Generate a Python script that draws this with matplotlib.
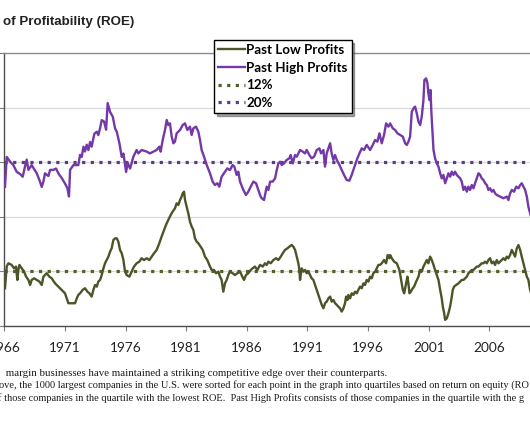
import matplotlib
matplotlib.use("Agg")
import matplotlib.pyplot as plt

# Past High Profits quartile ROE (%)
high_years = [1966.05, 1966.19, 1966.47, 1966.74, 1967.02, 1967.29, 1967.51, 1967.70, 1967.84, 1967.98,
              1968.25, 1968.67, 1968.89, 1969.08, 1969.22, 1969.35, 1969.63, 1969.77, 1970.04, 1970.26,
              1970.45, 1970.73, 1971.00, 1971.20, 1971.33, 1971.42, 1971.69, 1972.10, 1972.24, 1972.38,
              1972.52, 1972.65, 1972.79, 1972.93, 1973.07, 1973.20, 1973.42, 1973.62, 1973.75, 1973.89,
              1974.03, 1974.22, 1974.39, 1974.52, 1974.72, 1974.94, 1975.13, 1975.27, 1975.49, 1975.68,
              1975.82, 1976.04, 1976.17, 1976.37, 1976.64, 1976.91, 1977.05, 1977.32, 1977.74, 1978.01,
              1978.29, 1978.56, 1978.78, 1978.89, 1979.06, 1979.25, 1979.39, 1979.52, 1979.66, 1979.80,
              1979.94, 1980.07, 1980.21, 1980.49, 1980.71, 1980.90, 1981.09, 1981.31, 1981.45, 1981.59,
              1981.81, 1982.00, 1982.14, 1982.27, 1982.47, 1982.69, 1982.96, 1983.18, 1983.37, 1983.57,
              1983.73, 1983.92, 1984.20, 1984.39, 1984.61, 1984.83, 1984.97, 1985.16, 1985.30, 1985.44,
              1985.71, 1985.93, 1986.12, 1986.32, 1986.54, 1986.76, 1986.95, 1987.14, 1987.23, 1987.42,
              1987.64, 1987.78, 1987.92, 1988.13, 1988.33, 1988.47, 1988.60, 1988.74, 1988.88, 1989.07,
              1989.29, 1989.51, 1989.62, 1989.79, 1989.98, 1990.12, 1990.39, 1990.61, 1990.80, 1990.94,
              1991.16, 1991.35, 1991.55, 1991.77, 1991.99, 1992.12, 1992.32, 1992.45, 1992.59, 1992.73,
              1992.87, 1993.00, 1993.14, 1993.28, 1993.42, 1993.64, 1993.83, 1994.02, 1994.24, 1994.46,
              1994.65, 1994.79, 1994.93, 1995.07, 1995.29, 1995.48, 1995.67, 1995.89, 1996.17, 1996.39,
              1996.58, 1996.77, 1996.94, 1997.13, 1997.32, 1997.49, 1997.68, 1997.82, 1998.04, 1998.23,
              1998.43, 1998.65, 1998.87, 1999.06, 1999.20, 1999.33, 1999.47, 1999.61, 1999.75, 1999.88,
              2000.02, 2000.16, 2000.30, 2000.43, 2000.57, 2000.65, 2000.79, 2000.90, 2000.98, 2001.07,
              2001.15, 2001.23, 2001.31, 2001.40, 2001.53, 2001.67, 2001.81, 2001.95, 2002.08, 2002.22,
              2002.36, 2002.50, 2002.63, 2002.77, 2002.91, 2003.05, 2003.18, 2003.32, 2003.46, 2003.60,
              2003.73, 2003.87, 2004.01, 2004.15, 2004.28, 2004.42, 2004.56, 2004.70, 2004.83, 2004.97,
              2005.11, 2005.25, 2005.38, 2005.52, 2005.66, 2005.80, 2005.93, 2006.07, 2006.21, 2006.35,
              2006.48, 2006.62, 2006.90, 2007.17, 2007.45, 2007.58, 2007.72, 2007.86, 2008.05, 2008.22,
              2008.41, 2008.55, 2008.68, 2008.82, 2008.96, 2009.10, 2009.23, 2009.37, 2009.60]
high_roe = [18.2, 20.4, 20.05, 19.8, 19.3, 19.15, 18.95, 19.7, 20.2, 19.45,
            19.8, 19.2, 18.7, 18.2, 18.6, 19.2, 19.0, 19.45, 19.45, 19.55,
            19.2, 18.85, 18.45, 18.1, 17.5, 19.45, 19.8, 19.8, 20.55, 20.4,
            21.15, 20.8, 21.3, 20.9, 21.5, 21.15, 22.1, 22.25, 22.0, 22.5,
            23.1, 23.0, 22.4, 24.35, 23.7, 23.35, 22.5, 22.25, 21.4, 20.4,
            20.65, 19.3, 19.95, 19.55, 20.42, 20.91, 20.66, 20.91, 20.79, 20.66,
            20.79, 20.91, 21.15, 20.79, 21.64, 22.38, 23.11, 22.74, 22.86, 21.89,
            21.4, 21.52, 22.13, 22.38, 22.74, 22.86, 22.38, 22.62, 22.01, 22.5,
            22.62, 22.25, 21.64, 20.91, 20.42, 19.81, 19.2, 18.59, 18.34, 18.47,
            18.22, 18.95, 19.32, 19.56, 19.44, 19.81, 19.69, 19.08, 19.32, 18.59,
            17.98, 17.61, 17.85, 18.22, 18.59, 18.47, 17.98, 17.49, 17.37, 17.24,
            18.22, 17.98, 18.59, 18.59, 18.83, 19.44, 19.93, 20.05, 19.81, 19.93,
            20.18, 20.3, 20.54, 19.93, 20.54, 20.42, 20.91, 20.79, 20.66, 20.91,
            20.54, 20.3, 20.42, 20.91, 21.03, 20.66, 20.91, 19.69, 20.66, 21.03,
            21.4, 20.66, 20.18, 20.54, 20.18, 19.81, 19.44, 19.08, 18.71, 18.66,
            19.08, 19.44, 19.81, 20.18, 20.66, 21.03, 20.91, 21.28, 20.91, 21.28,
            21.64, 21.52, 22.13, 21.4, 22.01, 22.86, 22.62, 22.86, 22.5, 22.38,
            22.13, 22.01, 21.89, 21.4, 21.28, 21.52, 21.89, 23.72, 23.96, 24.09,
            23.6, 22.99, 22.74, 23.35, 24.57, 26.04, 26.16, 25.8, 25.06, 24.57,
            25.31, 23.6, 22.38, 20.91, 20.3, 19.93, 19.69, 19.2, 18.83, 19.08,
            18.47, 18.83, 19.2, 18.95, 19.32, 19.08, 19.32, 19.08, 18.95, 18.83,
            18.59, 17.98, 18.22, 17.85, 18.22, 17.98, 18.34, 18.1, 18.47, 18.83,
            19.2, 19.08, 18.83, 18.71, 18.47, 18.34, 17.98, 18.1, 17.85, 17.98,
            17.73, 17.61, 17.49, 17.37, 17.49, 17.24, 17.73, 17.98, 17.85, 18.22,
            18.1, 18.34, 18.47, 18.22, 17.98, 17.49, 16.75, 16.27, 15.6]

# Past Low Profits quartile ROE (%)
low_years = [1966.05, 1966.19, 1966.33, 1966.60, 1966.79, 1966.96, 1967.07, 1967.15, 1967.24, 1967.43,
             1967.62, 1967.79, 1967.98, 1968.12, 1968.25, 1968.45, 1968.67, 1968.89, 1969.08, 1969.22,
             1969.35, 1969.49, 1969.71, 1969.90, 1970.18, 1970.45, 1970.73, 1971.00, 1971.14, 1971.28,
             1971.55, 1971.83, 1971.97, 1972.10, 1972.24, 1972.46, 1972.65, 1972.85, 1973.01, 1973.20,
             1973.34, 1973.48, 1973.62, 1973.75, 1973.89, 1974.03, 1974.17, 1974.30, 1974.44, 1974.58,
             1974.72, 1974.85, 1974.99, 1975.13, 1975.27, 1975.40, 1975.54, 1975.68, 1975.82, 1975.95,
             1976.09, 1976.31, 1976.50, 1976.69, 1976.91, 1977.13, 1977.32, 1977.52, 1977.74, 1977.96,
             1978.15, 1978.34, 1978.56, 1978.78, 1978.97, 1979.17, 1979.33, 1979.52, 1979.72, 1979.88,
             1980.07, 1980.21, 1980.35, 1980.49, 1980.62, 1980.71, 1980.82, 1980.90, 1981.04, 1981.17,
             1981.31, 1981.45, 1981.59, 1981.72, 1981.86, 1982.00, 1982.19, 1982.36, 1982.55, 1982.74,
             1982.96, 1983.10, 1983.29, 1983.46, 1983.65, 1983.79, 1983.92, 1984.06, 1984.20, 1984.34,
             1984.47, 1984.61, 1984.83, 1985.02, 1985.22, 1985.44, 1985.63, 1985.77, 1985.93, 1986.12,
             1986.32, 1986.48, 1986.67, 1986.87, 1987.09, 1987.31, 1987.50, 1987.64, 1987.78, 1987.97,
             1988.19, 1988.41, 1988.60, 1988.80, 1988.96, 1989.15, 1989.35, 1989.51, 1989.70, 1989.84,
             1989.98, 1990.12, 1990.25, 1990.34, 1990.39, 1990.53, 1990.67, 1990.80, 1990.94, 1991.08,
             1991.22, 1991.35, 1991.49, 1991.63, 1991.77, 1991.90, 1992.04, 1992.18, 1992.32, 1992.45,
             1992.59, 1992.73, 1992.87, 1993.00, 1993.14, 1993.28, 1993.42, 1993.55, 1993.69, 1993.83,
             1993.97, 1994.10, 1994.19, 1994.30, 1994.38, 1994.52, 1994.65, 1994.79, 1994.93, 1995.07,
             1995.20, 1995.34, 1995.48, 1995.62, 1995.75, 1995.89, 1996.03, 1996.17, 1996.30, 1996.44,
             1996.58, 1996.72, 1996.85, 1996.99, 1997.13, 1997.32, 1997.49, 1997.62, 1997.76, 1997.82,
             1997.96, 1998.15, 1998.37, 1998.59, 1998.73, 1998.87, 1998.98, 1999.14, 1999.25, 1999.33,
             1999.42, 1999.53, 1999.69, 1999.80, 1999.97, 2000.16, 2000.30, 2000.43, 2000.57, 2000.71,
             2000.85, 2000.98, 2001.12, 2001.26, 2001.40, 2001.53, 2001.67, 2001.81, 2001.95, 2002.08,
             2002.17, 2002.28, 2002.36, 2002.50, 2002.63, 2002.77, 2002.91, 2002.99, 2003.10, 2003.27,
             2003.46, 2003.60, 2003.73, 2003.87, 2004.01, 2004.15, 2004.28, 2004.42, 2004.56, 2004.70,
             2004.83, 2004.97, 2005.11, 2005.25, 2005.38, 2005.52, 2005.66, 2005.80, 2005.93, 2006.07,
             2006.21, 2006.35, 2006.48, 2006.62, 2006.76, 2006.90, 2007.03, 2007.17, 2007.31, 2007.45,
             2007.58, 2007.72, 2007.86, 2008.00, 2008.13, 2008.27, 2008.41, 2008.55, 2008.68, 2008.82,
             2008.96, 2009.10, 2009.23, 2009.37, 2009.60]
low_roe = [10.77, 12.36, 12.6, 12.48, 12.23, 12.36, 11.38, 12.11, 12.48, 12.23,
           11.99, 11.62, 11.38, 11.01, 11.38, 11.5, 11.38, 11.26, 11.01, 11.62,
           11.74, 11.87, 11.62, 11.5, 11.13, 10.89, 10.65, 10.4, 10.03, 9.67,
           9.67, 9.67, 10.03, 10.28, 10.4, 10.65, 10.77, 10.52, 10.4, 10.16,
           10.65, 11.01, 10.89, 11.26, 11.38, 11.74, 12.23, 12.6, 12.84, 13.09,
           13.46, 13.7, 14.31, 14.43, 14.43, 14.19, 13.58, 13.33, 12.84, 11.99,
           11.74, 11.62, 11.99, 12.36, 12.6, 12.72, 12.97, 12.84, 12.97, 12.84,
           13.09, 13.33, 13.58, 14.07, 14.56, 15.04, 15.41, 15.78, 16.14, 16.39,
           16.63, 17.0, 16.88, 17.24, 17.49, 17.73, 17.85, 17.24, 16.75, 16.27,
           15.65, 15.29, 15.04, 14.43, 14.19, 14.07, 13.82, 13.58, 13.09, 12.84,
           12.36, 12.11, 12.11, 11.87, 11.99, 11.62, 11.38, 10.52, 11.13, 11.38,
           11.74, 11.99, 11.87, 11.74, 11.87, 11.99, 11.62, 11.38, 11.74, 11.87,
           12.11, 12.23, 12.36, 12.11, 12.48, 12.36, 12.6, 12.48, 12.72, 12.6,
           12.84, 12.97, 12.84, 13.09, 13.33, 13.58, 13.7, 13.82, 13.94, 13.82,
           13.58, 13.09, 12.6, 12.11, 11.38, 12.23, 11.99, 12.11, 11.87, 11.99,
           11.74, 11.5, 11.38, 11.01, 10.65, 10.28, 9.91, 9.55, 9.3, 9.67,
           9.79, 10.03, 10.16, 9.79, 9.91, 9.67, 9.55, 9.42, 9.3, 9.06,
           9.3, 9.67, 10.16, 9.91, 10.28, 10.03, 10.4, 10.28, 10.52, 10.4,
           10.65, 10.89, 10.77, 11.13, 11.01, 11.38, 11.26, 11.62, 11.5, 11.87,
           11.99, 12.23, 12.48, 12.48, 12.6, 12.84, 12.6, 13.21, 12.97, 13.21,
           12.97, 12.72, 12.6, 12.11, 11.38, 10.65, 10.4, 11.13, 11.62, 11.13,
           10.4, 10.52, 10.77, 10.89, 11.26, 11.62, 12.11, 11.99, 12.36, 12.6,
           12.84, 12.6, 13.09, 12.84, 12.48, 12.11, 11.74, 11.38, 10.65, 10.03,
           9.42, 8.93, 8.45, 8.57, 8.93, 9.42, 10.16, 10.65, 10.89, 11.01,
           11.13, 11.26, 11.38, 11.38, 11.5, 11.62, 11.87, 11.99, 12.11, 12.11,
           12.23, 12.36, 12.36, 12.48, 12.6, 12.6, 12.72, 12.6, 12.84, 12.97,
           12.6, 12.72, 12.48, 12.84, 12.6, 12.72, 12.84, 12.97, 12.84, 13.09,
           12.97, 13.21, 13.58, 13.33, 13.09, 13.7, 13.94, 13.58, 13.09, 12.6,
           12.11, 11.62, 11.38, 10.65, 10.0]

year_ticks = [1966, 1971, 1976, 1981, 1986, 1991, 1996, 2001, 2006]
low_level = 12
high_level = 20

title_text = "of Profitability (ROE)"
note_lines = [
    " margin businesses have maintained a striking competitive edge over their counterparts.",
    "ove, the 1000 largest companies in the U.S. were sorted for each point in the graph into quartiles based on return on equity (RO",
    "f those companies in the quartile with the lowest ROE.  Past High Profits consists of those companies in the quartile with the g",
]

purple = "#7538a8"
olive = "#4b5527"
dot_olive = "#4f6228"
dot_purple = "#5a3d84"

fig = plt.figure(figsize=(5.3, 4.42), dpi=100)
ax = fig.add_axes([0.0083, 0.2624, 1.0063, 0.617])

ax.plot(low_years, low_roe, color=olive, lw=1.7, label="Past Low Profits", zorder=3)
ax.plot(high_years, high_roe, color=purple, lw=1.7, label="Past High Profits", zorder=3)
ax.axhline(low_level, color=dot_olive, lw=2.3, ls=(0, (1, 1.7)), dash_capstyle="butt",
           label="12%", zorder=2)
ax.axhline(high_level, color=dot_purple, lw=2.3, ls=(0, (1, 1.7)), dash_capstyle="butt",
           label="20%", zorder=2)

ax.set_xlim(1966, 2010)
ax.set_ylim(8, 28)
ax.set_yticks([8, 12, 16, 20, 24, 28])
ax.set_xticks(year_ticks)
ax.set_xticklabels([str(y) for y in year_ticks], fontfamily="Lato", fontsize=9.8)
ax.grid(axis="y", color="#d9d9d9", lw=0.9)
ax.set_axisbelow(True)
ax.tick_params(axis="y", labelleft=False, length=3.5, color="#7f7f7f", direction="out")
ax.tick_params(axis="x", length=3.5, color="#7f7f7f", direction="out", pad=8, colors="#222222")
ax.spines["right"].set_visible(False)
for s in ["left", "bottom"]:
    ax.spines[s].set_color("#4d4d4d")
    ax.spines[s].set_linewidth(1.0)
ax.spines["top"].set_color("#8c8c8c")
ax.spines["top"].set_linewidth(1.0)

leg = ax.legend(loc="upper left", bbox_to_anchor=(214 / 530, 1 - 40 / 442),
                bbox_transform=fig.transFigure, frameon=True, fancybox=False, shadow=True,
                prop={"family": "Lato", "weight": "bold", "size": 9.6},
                handlelength=2.0, handletextpad=0.12, labelspacing=0.42,
                borderpad=0.3, borderaxespad=0)
leg.get_frame().set_edgecolor("black")
leg.get_frame().set_linewidth(1.0)
leg.set_zorder(5)

fig.text(3 / 530, 1 - 22 / 442, title_text, fontfamily="Liberation Sans", fontweight="bold",
         fontsize=9.6, va="center", ha="left", color="#222222")

note_y = [373, 385.5, 398.5]
note_x = [3, -1, -2]
note_size = [7.8, 7.5, 7.5]
for txt, yy, xx, fs in zip(note_lines, note_y, note_x, note_size):
    fig.text(xx / 530, 1 - yy / 442, txt, fontfamily="Liberation Serif", fontsize=fs,
             va="center", ha="left", color="#1a1a1a")

fig.savefig("out.png", dpi=100)
